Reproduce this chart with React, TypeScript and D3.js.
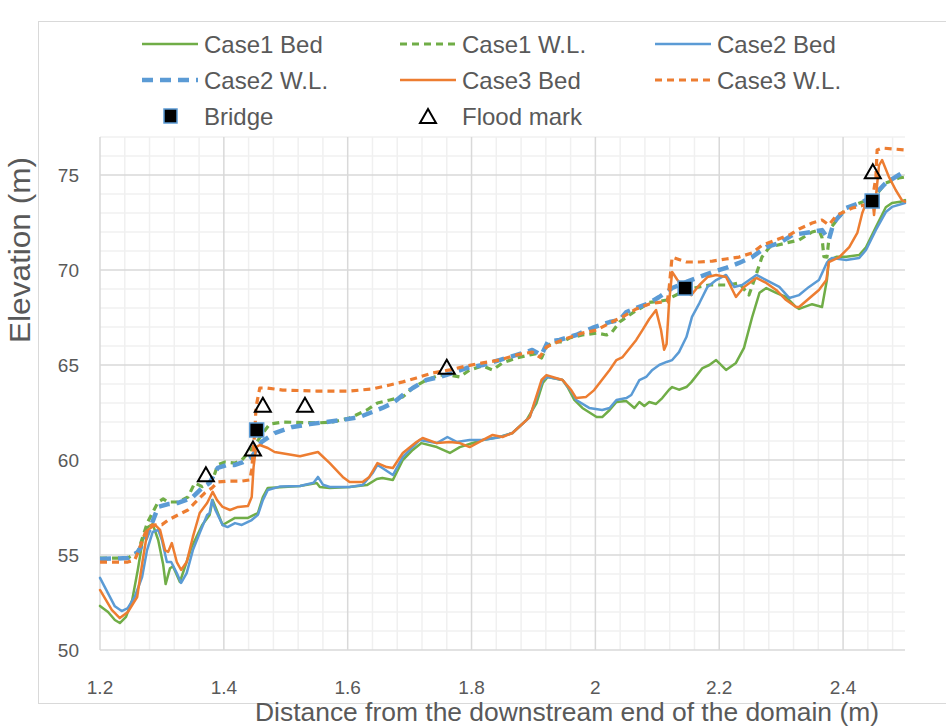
import React from "react";
import * as d3 from "d3";

// distance (m), elevation (m) pairs
const case1Bed: [number, number][] = [
  [1.2, 52.32], [1.213, 52.0], [1.224, 51.58], [1.232, 51.42], [1.242, 51.74], [1.252, 52.63],
  [1.261, 54.21], [1.269, 55.79], [1.277, 56.47], [1.285, 56.63], [1.294, 55.79], [1.302, 54.5],
  [1.306, 53.47], [1.313, 54.3], [1.318, 54.4], [1.329, 53.58], [1.348, 55.42], [1.365, 56.58],
  [1.377, 57.11], [1.382, 57.89], [1.398, 56.58], [1.418, 56.95], [1.439, 56.95], [1.455, 57.21],
  [1.463, 58.05], [1.471, 58.53], [1.523, 58.63], [1.55, 58.79], [1.555, 58.58], [1.571, 58.53],
  [1.603, 58.58], [1.631, 58.68], [1.647, 59.0], [1.656, 59.05], [1.673, 58.95], [1.689, 60.0],
  [1.705, 60.53], [1.719, 60.89], [1.744, 60.68], [1.765, 60.37], [1.781, 60.68], [1.797, 60.84],
  [1.818, 61.05], [1.845, 61.21], [1.866, 61.42], [1.889, 62.11], [1.905, 63.0], [1.915, 64.05],
  [1.923, 64.37], [1.947, 64.21], [1.955, 63.84], [1.966, 63.16], [1.979, 62.74], [2.002, 62.26],
  [2.011, 62.26], [2.023, 62.63], [2.034, 63.05], [2.05, 63.1], [2.063, 62.74], [2.071, 63.05],
  [2.079, 62.84], [2.087, 63.05], [2.098, 62.95], [2.108, 63.26], [2.119, 63.7], [2.124, 63.84],
  [2.135, 63.7], [2.147, 63.84], [2.155, 64.1], [2.173, 64.84], [2.184, 65.0], [2.195, 65.26],
  [2.211, 64.74], [2.227, 65.11], [2.24, 65.9], [2.253, 67.5], [2.265, 68.8], [2.276, 69.05],
  [2.292, 68.8], [2.308, 68.58], [2.324, 68.05], [2.329, 67.95], [2.35, 68.2], [2.366, 68.05],
  [2.374, 69.5], [2.377, 70.53], [2.39, 70.7], [2.405, 70.7], [2.426, 70.79], [2.437, 71.2],
  [2.453, 72.26], [2.469, 73.3], [2.479, 73.53], [2.495, 73.6], [2.5, 73.68],
];

const case1WL: [number, number][] = [
  [1.2, 54.84], [1.245, 54.84], [1.261, 55.16], [1.277, 56.74], [1.294, 57.79], [1.302, 57.95],
  [1.31, 57.79], [1.326, 57.79], [1.342, 58.05], [1.353, 58.79], [1.365, 58.6], [1.382, 58.95],
  [1.39, 59.74], [1.402, 59.89], [1.418, 59.84], [1.429, 60.0], [1.439, 60.37], [1.45, 60.79],
  [1.463, 61.42], [1.474, 61.89], [1.495, 62.0], [1.55, 61.95], [1.576, 62.0], [1.603, 62.21],
  [1.631, 62.63], [1.648, 63.0], [1.668, 63.16], [1.689, 63.32], [1.705, 63.79], [1.727, 64.21],
  [1.748, 64.47], [1.765, 64.47], [1.781, 64.37], [1.797, 64.74], [1.818, 64.95], [1.834, 64.74],
  [1.85, 65.11], [1.873, 65.37], [1.894, 65.53], [1.905, 65.6], [1.913, 65.37], [1.921, 65.95],
  [1.931, 66.21], [1.947, 66.21], [1.958, 66.42], [1.979, 66.58], [2.002, 66.68], [2.018, 66.58],
  [2.027, 66.74], [2.039, 67.26], [2.06, 67.74], [2.076, 68.05], [2.087, 68.3], [2.103, 68.35],
  [2.115, 68.42], [2.124, 68.58], [2.147, 68.95], [2.168, 69.11], [2.184, 69.21], [2.216, 69.21],
  [2.232, 69.32], [2.248, 68.68], [2.26, 69.8], [2.269, 70.68], [2.281, 71.2], [2.308, 71.42],
  [2.329, 71.58], [2.35, 72.0], [2.361, 72.1], [2.366, 71.7], [2.369, 70.7], [2.374, 70.68],
  [2.377, 71.6], [2.382, 72.3], [2.405, 73.26], [2.431, 73.58], [2.447, 73.7], [2.469, 74.58],
  [2.49, 74.84], [2.5, 74.89],
];

const case2Bed: [number, number][] = [
  [1.2, 53.8], [1.224, 52.3], [1.235, 52.05], [1.245, 52.21], [1.256, 52.79], [1.268, 53.84],
  [1.276, 55.26], [1.285, 56.21], [1.294, 56.32], [1.3, 55.79], [1.308, 54.63], [1.315, 54.63],
  [1.324, 54.05], [1.331, 53.53], [1.34, 54.05], [1.35, 55.26], [1.361, 56.16], [1.373, 57.11],
  [1.377, 57.21], [1.381, 57.89], [1.386, 57.4], [1.398, 56.58], [1.406, 56.47], [1.418, 56.68],
  [1.429, 56.58], [1.445, 56.84], [1.455, 57.11], [1.463, 57.89], [1.471, 58.42], [1.49, 58.6],
  [1.523, 58.63], [1.545, 58.8], [1.552, 59.11], [1.56, 58.7], [1.571, 58.58], [1.603, 58.58],
  [1.624, 58.68], [1.64, 59.3], [1.648, 59.74], [1.656, 59.58], [1.673, 59.21], [1.689, 60.16],
  [1.716, 61.05], [1.744, 60.89], [1.761, 61.21], [1.776, 60.95], [1.797, 61.05], [1.818, 61.05],
  [1.845, 61.2], [1.866, 61.42], [1.894, 62.26], [1.915, 64.21], [1.923, 64.37], [1.947, 64.21],
  [1.963, 63.53], [1.969, 63.16], [1.99, 62.74], [2.011, 62.63], [2.023, 62.74], [2.034, 63.16],
  [2.05, 63.26], [2.058, 63.42], [2.071, 64.2], [2.082, 64.37], [2.092, 64.74], [2.103, 65.0],
  [2.115, 65.16], [2.124, 65.26], [2.135, 65.68], [2.147, 66.47], [2.156, 67.53], [2.168, 68.26],
  [2.181, 69.11], [2.195, 69.47], [2.211, 69.74], [2.224, 69.11], [2.237, 69.21], [2.26, 69.74],
  [2.276, 69.47], [2.297, 69.11], [2.313, 68.53], [2.329, 68.68], [2.345, 69.11], [2.361, 69.47],
  [2.374, 70.4], [2.382, 70.63], [2.405, 70.53], [2.426, 70.63], [2.437, 71.05], [2.453, 72.11],
  [2.469, 73.05], [2.479, 73.32], [2.5, 73.53],
];

const case2WL: [number, number][] = [
  [1.2, 54.79], [1.245, 54.84], [1.261, 55.16], [1.273, 55.79], [1.284, 56.68], [1.294, 57.53],
  [1.31, 57.68], [1.326, 57.74], [1.348, 58.0], [1.365, 58.53], [1.377, 58.79], [1.39, 59.58],
  [1.405, 59.74], [1.418, 59.74], [1.431, 59.89], [1.445, 60.16], [1.461, 60.95], [1.482, 61.42],
  [1.511, 61.74], [1.539, 61.89], [1.566, 62.0], [1.592, 62.11], [1.619, 62.26], [1.64, 62.53],
  [1.656, 62.74], [1.673, 63.0], [1.689, 63.42], [1.705, 63.79], [1.727, 64.21], [1.748, 64.37],
  [1.769, 64.58], [1.792, 64.84], [1.818, 65.0], [1.845, 65.26], [1.873, 65.53], [1.898, 65.79],
  [1.913, 65.53], [1.923, 66.21], [1.942, 66.32], [1.969, 66.58], [1.995, 66.95], [2.023, 67.26],
  [2.039, 67.37], [2.05, 67.79], [2.066, 68.0], [2.087, 68.26], [2.103, 68.58], [2.124, 69.05],
  [2.147, 69.37], [2.168, 69.63], [2.189, 69.89], [2.211, 70.11], [2.232, 70.37], [2.253, 70.68],
  [2.276, 71.21], [2.297, 71.42], [2.318, 71.84], [2.329, 71.9], [2.35, 72.0], [2.366, 72.1],
  [2.377, 71.6], [2.385, 72.5], [2.405, 73.26], [2.431, 73.58], [2.447, 73.84], [2.469, 74.58],
  [2.49, 75.0], [2.5, 75.2],
];

const case3Bed: [number, number][] = [
  [1.2, 53.16], [1.219, 52.11], [1.232, 51.68], [1.245, 52.0], [1.26, 52.79], [1.269, 54.74],
  [1.277, 56.32], [1.289, 56.58], [1.297, 56.32], [1.305, 55.26], [1.31, 55.16], [1.316, 55.63],
  [1.324, 54.63], [1.331, 54.21], [1.34, 54.63], [1.35, 55.95], [1.361, 57.21], [1.373, 57.74],
  [1.382, 58.32], [1.389, 57.89], [1.398, 57.53], [1.41, 57.37], [1.423, 57.53], [1.439, 57.58],
  [1.445, 58.05], [1.448, 59.63], [1.452, 60.68], [1.458, 60.79], [1.471, 60.63], [1.482, 60.42],
  [1.523, 60.2], [1.552, 60.42], [1.571, 59.84], [1.592, 59.11], [1.603, 58.84], [1.624, 58.84],
  [1.635, 59.11], [1.648, 59.84], [1.663, 59.63], [1.673, 59.58], [1.689, 60.37], [1.711, 60.95],
  [1.721, 61.16], [1.744, 60.89], [1.765, 60.95], [1.781, 60.89], [1.797, 60.68], [1.818, 61.05],
  [1.834, 61.32], [1.85, 61.21], [1.866, 61.42], [1.894, 62.26], [1.913, 64.21], [1.921, 64.47],
  [1.947, 64.21], [1.961, 63.68], [1.969, 63.26], [1.985, 63.32], [1.998, 63.68], [2.023, 64.74],
  [2.034, 65.26], [2.044, 65.42], [2.066, 66.32], [2.076, 66.84], [2.087, 67.42], [2.098, 67.89],
  [2.106, 66.84], [2.111, 65.8], [2.115, 66.1], [2.119, 68.3], [2.124, 69.9], [2.132, 69.5],
  [2.147, 68.84], [2.155, 68.68], [2.168, 69.21], [2.181, 69.63], [2.195, 69.74], [2.211, 69.63],
  [2.227, 68.58], [2.24, 69.11], [2.26, 69.58], [2.276, 69.32], [2.292, 68.95], [2.308, 68.42],
  [2.324, 68.05], [2.329, 68.05], [2.345, 68.5], [2.361, 68.95], [2.373, 69.47], [2.377, 70.42],
  [2.394, 70.68], [2.41, 71.21], [2.423, 71.95], [2.431, 73.0], [2.439, 73.68], [2.447, 73.9],
  [2.45, 72.89], [2.455, 74.5], [2.458, 75.5], [2.463, 75.79], [2.474, 74.9], [2.485, 74.21],
  [2.495, 73.68], [2.5, 73.6],
];

const case3WL: [number, number][] = [
  [1.2, 54.63], [1.245, 54.63], [1.256, 54.74], [1.261, 55.11], [1.273, 56.16], [1.284, 56.58],
  [1.3, 56.6], [1.31, 56.84], [1.326, 57.11], [1.342, 57.37], [1.353, 57.74], [1.369, 58.26],
  [1.381, 58.53], [1.39, 58.84], [1.406, 58.89], [1.429, 58.89], [1.442, 58.95], [1.445, 59.5],
  [1.45, 61.5], [1.452, 62.79], [1.458, 63.79], [1.469, 63.79], [1.495, 63.68], [1.55, 63.63],
  [1.603, 63.63], [1.64, 63.74], [1.668, 63.95], [1.689, 64.11], [1.711, 64.32], [1.737, 64.58],
  [1.765, 64.74], [1.792, 64.95], [1.818, 65.11], [1.845, 65.26], [1.873, 65.53], [1.898, 65.68],
  [1.91, 65.42], [1.921, 65.95], [1.947, 66.32], [1.979, 66.68], [2.002, 66.84], [2.023, 67.21],
  [2.044, 67.53], [2.066, 67.95], [2.087, 68.21], [2.103, 68.3], [2.116, 68.32], [2.119, 69.0],
  [2.123, 70.4], [2.124, 70.68], [2.147, 70.42], [2.168, 70.42], [2.189, 70.47], [2.211, 70.58],
  [2.232, 70.68], [2.253, 70.9], [2.269, 71.3], [2.292, 71.58], [2.313, 71.84], [2.329, 72.16],
  [2.35, 72.47], [2.366, 72.63], [2.377, 72.37], [2.39, 72.89], [2.415, 73.26], [2.434, 73.42],
  [2.447, 73.6], [2.453, 74.9], [2.455, 76.32], [2.463, 76.42], [2.5, 76.32],
];

const bridges: [number, number][] = [[1.453, 61.58], [2.145, 69.05], [2.447, 73.63]];
const floodMarks: [number, number][] = [
  [1.371, 59.2], [1.447, 60.55], [1.463, 62.85], [1.531, 62.85], [1.76, 64.85], [2.448, 75.15],
];

const xTicks = [1.2, 1.4, 1.6, 1.8, 2, 2.2, 2.4];
const yTicks = [50, 55, 60, 65, 70, 75];

const GREEN = "#70ad47";
const BLUE = "#5b9bd5";
const ORANGE = "#ed7d31";
const TEXT = "#595959";
const FONT = "'Liberation Sans', Arial, sans-serif";

const seriesList = [
  { name: "Case1 Bed", data: case1Bed, color: GREEN, width: 2.5, dash: "" },
  { name: "Case1 W.L.", data: case1WL, color: GREEN, width: 3.2, dash: "7 5" },
  { name: "Case2 Bed", data: case2Bed, color: BLUE, width: 2.5, dash: "" },
  { name: "Case2 W.L.", data: case2WL, color: BLUE, width: 4.5, dash: "11 7" },
  { name: "Case3 Bed", data: case3Bed, color: ORANGE, width: 2.5, dash: "" },
  { name: "Case3 W.L.", data: case3WL, color: ORANGE, width: 3.2, dash: "7 5" },
];

export default function App() {
  const x = d3.scaleLinear().domain([1.2, 2.5]).range([100, 905]);
  const y = d3.scaleLinear().domain([50, 77]).range([650, 137]);
  const line = d3
    .line<[number, number]>()
    .x((d) => x(d[0]))
    .y((d) => y(d[1]));

  const xMinor = d3.range(0, 33).map((i) => 1.2 + i * 0.04);
  const yMinor = d3.range(50, 78);

  const triangle = (cx: number, cy: number) =>
    `M${cx},${cy - 8}L${cx + 8},${cy + 6}L${cx - 8},${cy + 6}Z`;

  // legend positions: 3 columns x 3 rows
  const legCols = [142, 400, 655];
  const legRows = [44, 80, 116];

  return (
    <svg
      width={946}
      height={726}
      style={{ position: "absolute", left: 0, top: 0, background: "#fff" }}
      fontFamily={FONT}
    >
      <rect x={0} y={0} width={946} height={726} fill="#fff" />
      <rect x={38.5} y={21.5} width={940} height={682} fill="none" stroke="#d9d9d9" />

      {/* minor grid */}
      {xMinor.map((v, i) =>
        i % 5 !== 0 ? (
          <line key={"xm" + i} x1={x(v)} x2={x(v)} y1={y(50)} y2={y(77)} stroke="#f0f0f0" strokeWidth={1.5} />
        ) : null
      )}
      {yMinor.map((v) =>
        v % 5 !== 0 ? (
          <line key={"ym" + v} x1={x(1.2)} x2={x(2.5)} y1={y(v)} y2={y(v)} stroke="#f0f0f0" strokeWidth={1.5} />
        ) : null
      )}
      {/* major grid */}
      {xTicks.map((v) => (
        <line key={"xM" + v} x1={x(v)} x2={x(v)} y1={y(50)} y2={y(77)} stroke="#d9d9d9" strokeWidth={1.5} />
      ))}
      {yTicks.map((v) => (
        <line key={"yM" + v} x1={x(1.2)} x2={x(2.5)} y1={y(v)} y2={y(v)} stroke="#d9d9d9" strokeWidth={1.5} />
      ))}

      {/* tick labels */}
      {xTicks.map((v) => (
        <text key={"xt" + v} x={x(v)} y={694} textAnchor="middle" fontSize={19} fill={TEXT}>
          {String(v)}
        </text>
      ))}
      {yTicks.map((v) => (
        <text key={"yt" + v} x={79} y={y(v) + 7} textAnchor="end" fontSize={19} fill={TEXT}>
          {String(v)}
        </text>
      ))}

      {/* series */}
      {seriesList.map((s) => (
        <path
          key={s.name}
          d={line(s.data) || ""}
          fill="none"
          stroke={s.color}
          strokeWidth={s.width}
          strokeDasharray={s.dash || undefined}
          strokeLinejoin="round"
          strokeLinecap={s.dash ? "butt" : "round"}
        />
      ))}

      {bridges.map((d, i) => (
        <rect
          key={"b" + i}
          x={x(d[0]) - 7}
          y={y(d[1]) - 7}
          width={14}
          height={14}
          fill="#000"
          stroke={BLUE}
          strokeWidth={1.5}
        />
      ))}
      {floodMarks.map((d, i) => (
        <path key={"f" + i} d={triangle(x(d[0]), y(d[1]))} fill="none" stroke="#000" strokeWidth={2} />
      ))}

      {/* axis titles */}
      <text x={567} y={721} textAnchor="middle" fontSize={25} fill={TEXT} textLength={624} lengthAdjust="spacingAndGlyphs">
        Distance from the downstream end of the domain (m)
      </text>
      <text
        transform="translate(30,250) rotate(-90)"
        textAnchor="middle"
        fontSize={29}
        fill={TEXT}
        textLength={186}
        lengthAdjust="spacingAndGlyphs"
      >
        Elevation (m)
      </text>

      {/* legend */}
      {seriesList.map((s, i) => {
        const lx = legCols[i % 3];
        const ly = legRows[Math.floor(i / 3)];
        return (
          <g key={"leg" + i}>
            <line
              x1={lx}
              x2={lx + 56}
              y1={ly}
              y2={ly}
              stroke={s.color}
              strokeWidth={s.width}
              strokeDasharray={s.dash || undefined}
            />
            <text x={lx + 62} y={ly + 9} fontSize={24} fill={TEXT}>
              {s.name}
            </text>
          </g>
        );
      })}
      <rect x={legCols[0] + 22} y={legRows[2] - 7} width={13} height={14} fill="#000" stroke={BLUE} strokeWidth={1.5} />
      <text x={legCols[0] + 62} y={legRows[2] + 9} fontSize={24} fill={TEXT}>
        Bridge
      </text>
      <path d={triangle(legCols[1] + 28, legRows[2] + 1)} fill="none" stroke="#000" strokeWidth={2} />
      <text x={legCols[1] + 62} y={legRows[2] + 9} fontSize={24} fill={TEXT}>
        Flood mark
      </text>
    </svg>
  );
}
